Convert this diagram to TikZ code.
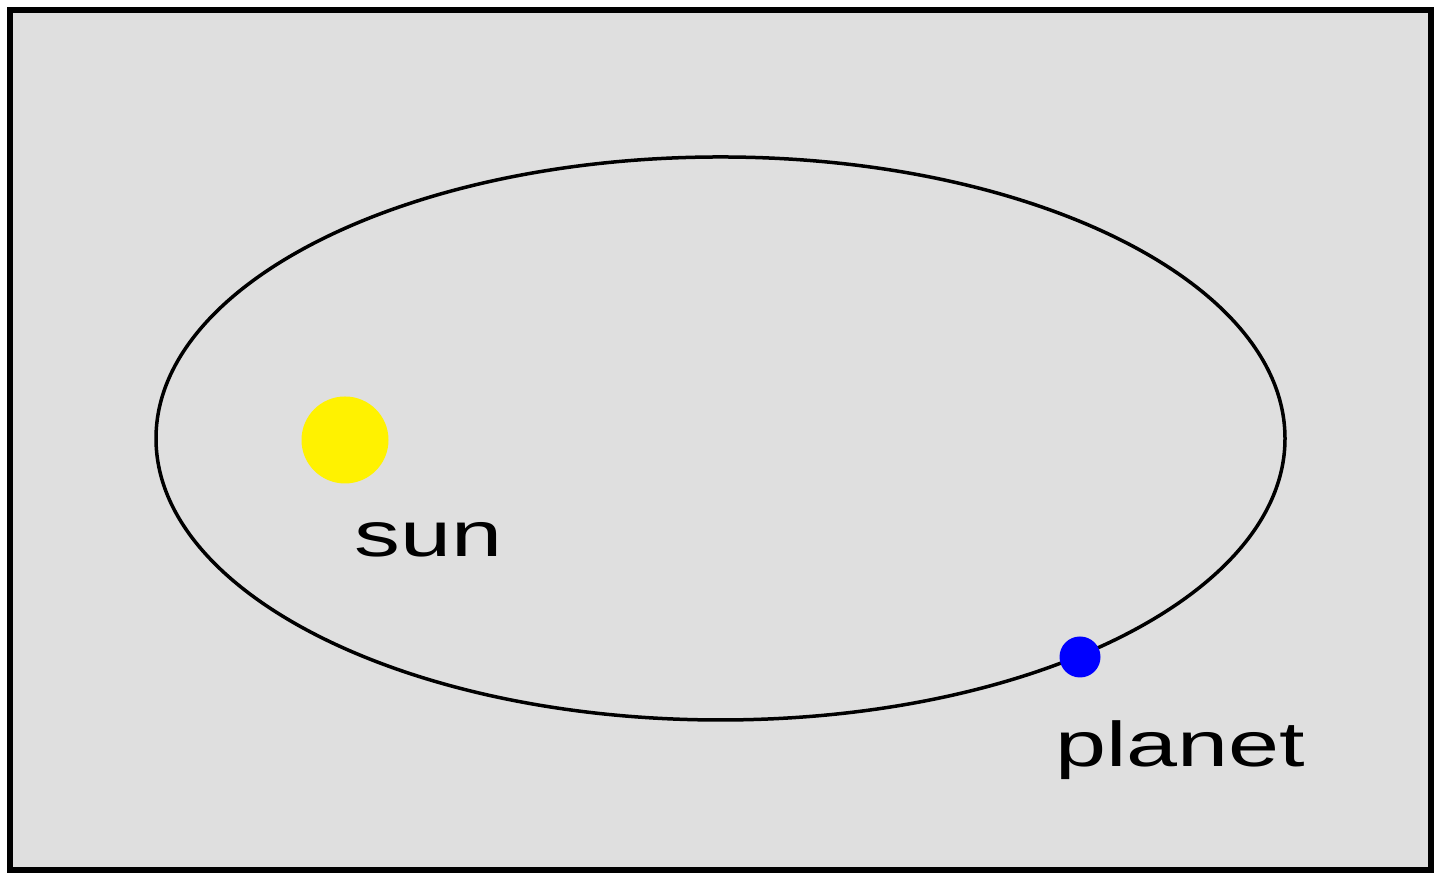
\documentclass[tikz,border=0pt]{standalone}
\usepackage{fontspec}
\setmainfont{Liberation Sans}
\usepackage{tikz}
\definecolor{panelgray}{HTML}{DFDFDF}

\begin{document}
\begin{tikzpicture}[thick,
                    body node/.style={circle, inner sep=0pt, outer sep=0pt},
                    name node/.style={anchor=base west, inner sep=0pt, font=\fontsize{18}{20}\selectfont}]

  \useasboundingbox (0,0) rectangle (14.4,8.76);

  %Frame%
  \draw[line width=0.06cm, fill=panelgray] (0.095,0.055) rectangle (14.31,8.66);

  %Orbit%
  \draw[line width=0.035cm] (7.205,4.375) ellipse [x radius=5.645cm, y radius=2.815cm];

  %Bodies%
  \node[body node, fill=yellow, minimum size=0.87cm] (sun) at (3.45,4.36) {};
  \node[body node, fill=blue, minimum size=0.41cm] (planet) at (10.8,2.19) {};

  %Labels%
  \node[name node] (sunlabel) at (3.53,3.19) {\scalebox{1.45}[1]{sun}};
  \node[name node] (planetlabel) at (10.54,1.09) {\scalebox{1.45}[1]{planet}};
\end{tikzpicture}
\end{document}
